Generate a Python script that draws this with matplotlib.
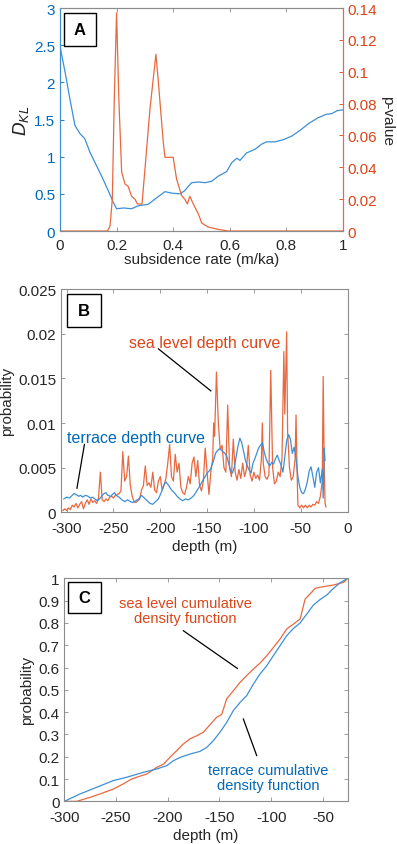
import matplotlib.pyplot as plt
from matplotlib.patches import Rectangle

plt.rcParams['font.family'] = ['Liberation Sans', 'DejaVu Sans']
plt.rcParams['font.size'] = 11
plt.rcParams['axes.unicode_minus'] = False

# colours (MATLAB-ish)
blue_line = '#3D8FD6'
red_line = '#E8683F'
blue_txt = '#0068B8'
red_txt = '#D9461A'
frame = '#8C8C8C'
dark = '#262626'

# ---- panel A: D_KL and p-value vs subsidence rate ----
rate_kl = [0, .018, .035, .053, .071, .088, .106, .124, .147, .171, .188, .2,
           .225, .253, .277, .312, .336, .371, .395, .424, .44, .465, .489,
           .512, .536, .56, .589, .607, .625, .636, .659, .689, .713, .73,
           .76, .79, .82, .85, .88, .91, .94, .96, .98, 1.0]
dkl = [2.49, 2.14, 1.78, 1.42, 1.31, 1.24, 1.06, 0.92, 0.74, 0.54, 0.39, 0.30,
       0.31, 0.30, 0.34, 0.36, 0.43, 0.53, 0.51, 0.50, 0.54, 0.65, 0.66,
       0.65, 0.67, 0.74, 0.80, 0.92, 0.98, 0.95, 1.05, 1.10, 1.17, 1.20,
       1.20, 1.23, 1.28, 1.36, 1.45, 1.52, 1.57, 1.58, 1.62, 1.63]

rate_p = [0, 0.168, 0.177, 0.185, 0.192, 0.2, 0.208, 0.218, 0.23, 0.241,
          0.253, 0.265, 0.274, 0.29, 0.318, 0.339, 0.347, 0.365, 0.371, 0.4,
          0.412, 0.43, 0.441, 0.45, 0.459, 0.471, 0.489, 0.501, 0.524, 0.56,
          0.595, 1.0]
pval = [0, 0, 0.0033, 0.020, 0.083, 0.137, 0.083, 0.037, 0.0295, 0.028,
        0.0218, 0.020, 0.017, 0.017, 0.0766, 0.111, 0.095, 0.0557, 0.0463,
        0.0463, 0.0326, 0.0222, 0.020, 0.017, 0.0218, 0.017, 0.0107, 0.005,
        0.0025, 0.001, 0, 0]

# ---- panel B: probability vs depth ----
terr_depth = [-303, -300, -297, -295, -292, -290, -287, -285, -283, -280,
              -277, -275, -272, -270, -267, -264, -262, -260, -258, -256,
              -253, -251, -249, -247, -244, -241, -238, -235, -232, -229,
              -226, -223, -220, -217, -214, -211, -208, -205, -202, -199,
              -196, -194, -191, -188, -185, -182, -179, -176, -173, -170,
              -167, -164, -161, -158, -155, -152, -150, -147, -145, -143,
              -141, -139, -137, -135, -133, -131, -129, -127, -125, -123,
              -121, -119, -117, -115, -113, -111, -109, -107, -105, -103,
              -101, -99, -97, -95, -93, -91, -89, -87, -85, -83,
              -81, -79, -77, -75, -73, -71, -69, -67, -65, -63,
              -61, -59, -57, -55, -53, -51, -49, -47, -45, -43,
              -41, -39, -37, -35, -33, -31, -29, -27, -26, -25, -24]
terr_prob = [0.0015, 0.0017, 0.0016, 0.0018, 0.0021, 0.0020, 0.0018, 0.0019, 0.0017, 0.0019,
             0.0018, 0.0016, 0.0017, 0.0015, 0.0013, 0.0016, 0.0019, 0.0021, 0.0022, 0.0019,
             0.0018, 0.0020, 0.0022, 0.0019, 0.0017, 0.0014, 0.0012, 0.0014, 0.0012, 0.0011,
             0.0013, 0.0015, 0.0019, 0.0016, 0.0013, 0.0010, 0.0009, 0.0012, 0.0015, 0.0022,
             0.0031, 0.0034, 0.0030, 0.0025, 0.0022, 0.0018, 0.0015, 0.0013, 0.0015, 0.0014,
             0.0016, 0.0019, 0.0024, 0.0029, 0.0035, 0.0040, 0.0044, 0.0047, 0.0052, 0.0058,
             0.0066, 0.0069, 0.0071, 0.0070, 0.0068, 0.0066, 0.0063, 0.0055, 0.0047, 0.0044,
             0.0050, 0.0062, 0.0074, 0.0083, 0.0078, 0.0068, 0.0058, 0.0052, 0.0047, 0.0044,
             0.0055, 0.0060, 0.0066, 0.0072, 0.0075, 0.0078, 0.0068, 0.0060, 0.0055, 0.0052,
             0.0056, 0.0054, 0.0060, 0.0064, 0.0058, 0.0053, 0.0045, 0.0062, 0.0080, 0.0087,
             0.0082, 0.0066, 0.0073, 0.0060, 0.0040, 0.0028, 0.0022, 0.0021, 0.0026, 0.0034,
             0.0046, 0.0051, 0.0040, 0.0028, 0.0045, 0.0050, 0.0033, 0.0048, 0.0016, 0.0072, 0.0058]

sea_depth = [-304, -302, -300, -298, -296, -294, -292, -290, -288, -286,
             -284, -282, -280, -278, -276, -274, -272, -270, -268, -266,
             -264, -262, -260, -258, -256, -254, -252, -250, -248, -246,
             -244, -242, -240, -238, -236, -234, -232, -230, -228, -226,
             -224, -222, -220, -218, -216, -214, -212, -210, -208, -206,
             -204, -202, -200, -198, -196, -194, -192, -190, -188, -186,
             -184, -182, -180, -178, -176, -174, -172, -170, -168, -166,
             -164, -162, -160, -158, -156, -154, -152, -150, -148, -146,
             -144, -143, -142, -140, -138, -136, -134, -132, -130, -128,
             -126, -124, -122, -120, -118, -116, -114, -112, -110, -108,
             -106, -104, -102, -100, -98, -96, -94, -92, -91, -90,
             -88, -86, -84, -82, -80, -78, -76, -74, -72, -70,
             -68, -67, -65, -64, -62, -60, -58, -56, -55, -54,
             -53, -51, -49, -47, -45, -43, -41, -39, -37, -35,
             -33, -31, -29, -27, -26, -25, -24, -23]
sea_prob = [0.0002, 0.0004, 0.0002, 0.0005, 0.0003, 0.0008, 0.0006, 0.0010, 0.0005, 0.0009,
            0.0012, 0.0004, 0.0010, 0.0014, 0.0009, 0.0015, 0.0011, 0.0013, 0.0010, 0.0016,
            0.0045, 0.0014, 0.0012, 0.0015, 0.0013, 0.0017, 0.0018, 0.0016, 0.0019, 0.0020,
            0.0021, 0.0024, 0.0068, 0.0035, 0.0040, 0.0063, 0.0030, 0.0018, 0.0012, 0.0011,
            0.0013, 0.0015, 0.0025, 0.0030, 0.0052, 0.0030, 0.0033, 0.0028, 0.0045, 0.0025,
            0.0022, 0.0035, 0.0040, 0.0025, 0.0030, 0.0038, 0.0055, 0.0076, 0.0040, 0.0035,
            0.0065, 0.0045, 0.0055, 0.0028, 0.0022, 0.0020, 0.0028, 0.0040, 0.0032, 0.0055,
            0.0062, 0.0040, 0.0058, 0.0030, 0.0024, 0.0035, 0.0072, 0.0045, 0.0020, 0.0045,
            0.0060, 0.0100, 0.0085, 0.0157, 0.0100, 0.0070, 0.0075, 0.0050, 0.0045, 0.0120,
            0.0050, 0.0040, 0.0082, 0.0045, 0.0036, 0.0048, 0.0038, 0.0055, 0.0040, 0.0048,
            0.0075, 0.0042, 0.0035, 0.0045, 0.0038, 0.0042, 0.0036, 0.0060, 0.0100, 0.0055,
            0.0040, 0.0037, 0.0042, 0.0159, 0.0050, 0.0032, 0.0035, 0.0045, 0.0040, 0.0060,
            0.0180, 0.0110, 0.0202, 0.0090, 0.0050, 0.0036, 0.0040, 0.0060, 0.0109, 0.0050,
            0.0008, 0.0005, 0.0008, 0.0005, 0.0008, 0.0005, 0.0008, 0.0006, 0.0009, 0.0008,
            0.0012, 0.0010, 0.0018, 0.0035, 0.0152, 0.0060, 0.0010, 0.0006]

# ---- panel C: cumulative density functions ----
sea_cdf_depth = [-300, -288, -275, -265.5, -252.6, -243, -235, -230, -220,
                 -210.7, -204, -198, -191.4, -185, -178.5, -172, -165.6, -159,
                 -152.7, -147.8, -143, -136.6, -130, -123.7, -117.2, -110.8,
                 -104.3, -97.9, -91.4, -85, -78.5, -72, -67.2, -62.4, -57.6,
                 -52.7, -39.8, -30, -26]
sea_cdf = [0, 0, 0.018, 0.033, 0.055, 0.078, 0.10, 0.108, 0.123, 0.152, 0.167,
           0.197, 0.227, 0.257, 0.28, 0.294, 0.31, 0.344, 0.377, 0.39, 0.46,
           0.496, 0.534, 0.564, 0.593, 0.62, 0.653, 0.69, 0.728, 0.773, 0.795,
           0.818, 0.907, 0.93, 0.955, 0.96, 0.97, 0.982, 1.0]

terr_cdf_depth = [-300, -284.8, -268.7, -252.6, -239.7, -223.6, -210.7, -201,
                  -194.6, -188, -178.5, -168.8, -162.3, -155.9, -149.5, -143,
                  -136.6, -130, -123.7, -117.2, -110.8, -104.3, -97.9, -91.4,
                  -85, -78.5, -72, -65.6, -59.2, -52.7, -46.3, -39.8, -33.4, -26]
terr_cdf = [0, 0.033, 0.063, 0.093, 0.108, 0.13, 0.145, 0.16, 0.182, 0.197,
            0.212, 0.224, 0.242, 0.272, 0.31, 0.354, 0.407, 0.444, 0.474,
            0.526, 0.571, 0.608, 0.653, 0.698, 0.743, 0.775, 0.80, 0.84,
            0.88, 0.905, 0.925, 0.955, 0.98, 1.0]


def style_axes(ax, color=frame):
    ax.tick_params(direction='in', length=3, width=0.6, color=frame,
                   top=True, right=True, labelcolor=dark)
    ax.tick_params(axis='x', pad=6)
    for s in ax.spines.values():
        s.set_color(color)
        s.set_linewidth(0.8)


def panel_label(ax, letter, x0, y0, w, h):
    ax.add_patch(Rectangle((x0, y0), w, h, transform=ax.transAxes,
                           fc='white', ec='black', lw=1.0, zorder=10,
                           clip_on=False))
    ax.text(x0 + w / 2, y0 + h / 2, letter, transform=ax.transAxes,
            ha='center', va='center', fontsize=12, fontweight='bold',
            zorder=11)


fig = plt.figure(figsize=(3.97, 8.45), dpi=100)

# panel A
ax_a = fig.add_axes([0.151, 0.7254, 0.713, 0.2639])
ax_p = ax_a.twinx()
ax_a.plot(rate_kl, dkl, color=blue_line, lw=0.9)
ax_p.plot(rate_p, pval, color=red_line, lw=0.9)
ax_a.set_xlim(0, 1)
ax_a.set_ylim(0, 3)
ax_p.set_ylim(0, 0.14)
ax_a.set_xticks([0, 0.2, 0.4, 0.6, 0.8, 1])
ax_a.set_xticklabels(['0', '0.2', '0.4', '0.6', '0.8', '1'])
ax_a.set_yticks([0, 0.5, 1, 1.5, 2, 2.5, 3])
ax_a.set_yticklabels(['0', '0.5', '1', '1.5', '2', '2.5', '3'])
ax_p.set_yticks([0, 0.02, 0.04, 0.06, 0.08, 0.1, 0.12, 0.14])
ax_p.set_yticklabels(['0', '0.02', '0.04', '0.06', '0.08', '0.1', '0.12', '0.14'])
ax_a.tick_params(direction='in', length=3, width=0.6, top=True,
                 color=frame, labelcolor=dark)
ax_a.tick_params(axis='x', pad=5)
ax_a.tick_params(axis='y', colors=blue_txt, labelcolor=blue_txt)
ax_p.tick_params(direction='in', length=3, width=0.6, colors=red_txt,
                 labelcolor=red_txt)
for a in (ax_a, ax_p):
    a.spines['top'].set_color(frame)
    a.spines['bottom'].set_color(frame)
    a.spines['left'].set_color(blue_line)
    a.spines['right'].set_color(red_line)
ax_a.set_xlabel('subsidence rate (m/ka)', color=dark, labelpad=0)
ax_a.set_ylabel('$D_{KL}$', color=dark, fontsize=13, labelpad=2)
ax_p.set_ylabel('p-value', color=dark, rotation=270, labelpad=12)
panel_label(ax_p, 'A', 0.014, 0.83, 0.113, 0.148)

# panel B
ax_b = fig.add_axes([0.1537, 0.3925, 0.7217, 0.2643])
ax_b.plot(sea_depth, sea_prob, color=red_line, lw=0.9)
ax_b.plot(terr_depth, terr_prob, color=blue_line, lw=0.9)
ax_b.set_xlim(-306, 0)
ax_b.set_ylim(0, 0.025)
ax_b.set_xticks([-300, -250, -200, -150, -100, -50, 0])
ax_b.set_yticks([0, 0.005, 0.01, 0.015, 0.02, 0.025])
ax_b.set_yticklabels(['0', '0.005', '0.01', '0.015', '0.02', '0.025'])
style_axes(ax_b)
ax_b.set_xlabel('depth (m)', color=dark, labelpad=3)
ax_b.set_ylabel('probability', color=dark, labelpad=3)
ax_b.text(-153, 0.0190, 'sea level depth curve', color=red_txt,
          fontsize=11.5, ha='center', va='center')
ax_b.plot([-202, -146], [0.0183, 0.0136], color='black', lw=0.9)
ax_b.text(-226, 0.0084, 'terrace depth curve', color=blue_txt,
          fontsize=11.5, ha='center', va='center')
ax_b.plot([-281, -289], [0.0076, 0.0027], color='black', lw=0.9)
panel_label(ax_b, 'B', 0.021, 0.83, 0.119, 0.148)

# panel C
ax_c = fig.add_axes([0.162, 0.0505, 0.7139, 0.2639])
ax_c.plot(sea_cdf_depth, sea_cdf, color=red_line, lw=0.9)
ax_c.plot(terr_cdf_depth, terr_cdf, color=blue_line, lw=0.9)
ax_c.set_xlim(-300, -26)
ax_c.set_ylim(0, 1)
ax_c.set_xticks([-300, -250, -200, -150, -100, -50])
ax_c.set_yticks([0, 0.1, 0.2, 0.3, 0.4, 0.5, 0.6, 0.7, 0.8, 0.9, 1])
ax_c.set_yticklabels(['0', '0.1', '0.2', '0.3', '0.4', '0.5', '0.6', '0.7',
                      '0.8', '0.9', '1'])
style_axes(ax_c)
ax_c.set_xlabel('depth (m)', color=dark, labelpad=3)
ax_c.set_ylabel('probability', color=dark, labelpad=3)
ax_c.text(-183.3, 0.855, 'sea level cumulative\ndensity function',
          color=red_txt, fontsize=10.5, ha='center', va='center',
          linespacing=1.1)
ax_c.plot([-184.9, -132.7], [0.765, 0.596], color='black', lw=0.9)
ax_c.text(-102.7, 0.108, 'terrace cumulative\ndensity function',
          color=blue_txt, fontsize=10.5, ha='center', va='center',
          linespacing=1.1)
ax_c.plot([-126.9, -114], [0.369, 0.205], color='black', lw=0.9)
panel_label(ax_c, 'C', 0.013, 0.844, 0.117, 0.139)

fig.savefig('out.png', dpi=100)
